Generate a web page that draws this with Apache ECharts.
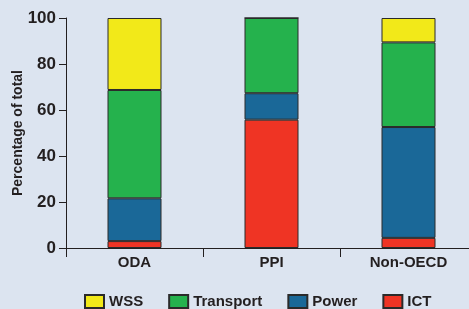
<!DOCTYPE html>
<html>
<head>
<meta charset="utf-8">
<script src="https://cdn.jsdelivr.net/npm/echarts@6/dist/echarts.min.js"></script>
<style>
  html, body { margin: 0; padding: 0; background: #dce4f0; }
  #chart { width: 469px; height: 309px; }
</style>
</head>
<body>
<div id="chart"></div>
<script>
// categories and shares (percentage of total)
var categories = ['ODA', 'PPI', 'Non-OECD'];
var ictData = [3, 55.8, 4.4];
var powerData = [18.6, 11.5, 48.2];
var transportData = [47.1, 32.7, 36.8];
var wssData = [31.3, 0, 10.6];
var legendOrder = ['WSS', 'Transport', 'Power', 'ICT'];

var ink = '#231f20';
var font = 'Liberation Sans, Arial, sans-serif';

function seg(name, data, color) {
    return {
        name: name,
        type: 'bar',
        stack: 'total',
        barWidth: 54,
        data: data,
        itemStyle: { color: color, borderColor: '#2a2a2a', borderWidth: 1 }
    };
}

var chart = echarts.init(document.getElementById('chart'));
chart.setOption({
    backgroundColor: '#dce4f0',
    animation: false,
    grid: { left: 66, top: 18, width: 411, height: 230, containLabel: false, outerBoundsMode: 'none' },
    legend: {
        data: legendOrder,
        left: 84,
        top: 294,
        padding: 0,
        itemWidth: 19,
        itemHeight: 13,
        itemGap: 25,
        icon: 'rect',
        textStyle: { color: ink, fontFamily: font, fontWeight: 'bold', fontSize: 15 }
    },
    xAxis: {
        type: 'category',
        data: categories,
        axisLine: { lineStyle: { color: ink, width: 1 } },
        axisTick: { show: true, length: 9, lineStyle: { color: ink } },
        axisLabel: { color: ink, fontFamily: font, fontWeight: 'bold', fontSize: 15, margin: 7 }
    },
    yAxis: {
        type: 'value',
        min: 0,
        max: 100,
        interval: 20,
        name: 'Percentage of total',
        nameLocation: 'middle',
        nameRotate: 90,
        nameGap: 41,
        nameMoveOverlap: false,
        nameTextStyle: { color: ink, fontFamily: font, fontWeight: 'bold', fontSize: 14 },
        axisLine: { show: true, lineStyle: { color: ink, width: 1 } },
        axisTick: { show: true, length: 7, lineStyle: { color: ink } },
        splitLine: { show: false },
        axisLabel: { color: ink, fontFamily: font, fontWeight: 'bold', fontSize: 17, margin: 10 }
    },
    series: [
        seg('ICT', ictData, '#ef3424'),
        seg('Power', powerData, '#1a6898'),
        seg('Transport', transportData, '#25b24d'),
        seg('WSS', wssData, '#f2e919')
    ]
});
</script>
</body>
</html>
